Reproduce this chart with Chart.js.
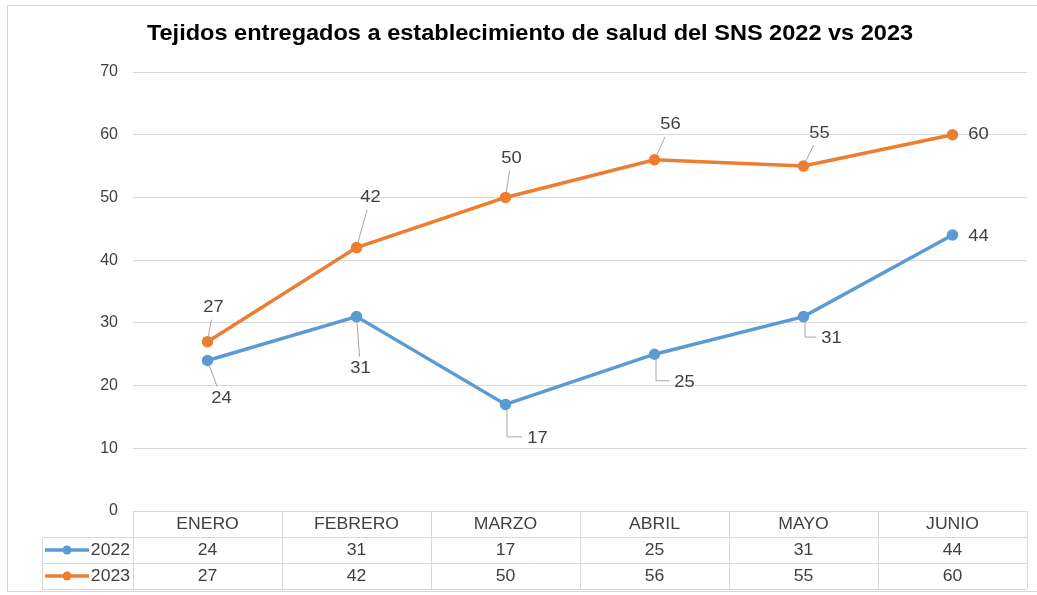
<!DOCTYPE html>
<html>
<head>
<meta charset="utf-8">
<script src="https://cdn.jsdelivr.net/npm/chart.js@4.4.1/dist/chart.umd.min.js"></script>
<style>
    body { margin: 0; background: #ffffff; }
    #wrap { width: 1037px; height: 595px; }
</style>
</head>
<body>
<div id="wrap"><canvas id="chart" width="1037" height="595"></canvas></div>
<script>
// data
const months = ["ENERO", "FEBRERO", "MARZO", "ABRIL", "MAYO", "JUNIO"];
const values2022 = [24, 31, 17, 25, 31, 44];
const values2023 = [27, 42, 50, 56, 55, 60];
const yTicks = [0, 10, 20, 30, 40, 50, 60, 70];

const chartTitle = "Tejidos entregados a establecimiento de salud del SNS 2022 vs 2023";
const blue = "#5B9BD5";
const orange = "#ED7D31";
const gridColor = "#d9d9d9";
const textColor = "#404040";
const fontFamily = "'Liberation Sans', Arial, sans-serif";

// label placement (pixel offsets from point) and leader style
const labelOffsets2022 = [[14, 38, "line"], [4, 52, "line"], [32, 34, "elbow"], [30, 28, "elbow"], [28, 22, "elbow"], [26, 1, "none"]];
const labelOffsets2023 = [[6, -34, "line"], [14, -50, "line"], [6, -39, "line"], [16, -35, "line"], [16, -33, "line"], [26, 0, "none"]];

// the source picture is a little wider than tall, so text is stretched a bit
function wideText(ctx, text, x, y, sx) {
    ctx.save();
    ctx.translate(x, y);
    ctx.scale(sx, 1);
    ctx.fillText(text, 0, 0);
    ctx.restore();
}

const framePlugin = {
    id: "frame",
    beforeDraw(chart) {
        const ctx = chart.ctx;
        ctx.save();
        ctx.fillStyle = "#ffffff";
        ctx.fillRect(0, 0, chart.width, chart.height);
        ctx.strokeStyle = gridColor;
        ctx.lineWidth = 1;
        ctx.strokeRect(7.5, 5.5, chart.width + 10, chart.height - 9);
        ctx.fillStyle = "#000000";
        ctx.font = "bold 22px " + fontFamily;
        ctx.textAlign = "center";
        ctx.textBaseline = "middle";
        wideText(ctx, chartTitle, 530, 34, 1.07);
        ctx.restore();
    }
};

const labelPlugin = {
    id: "pointLabels",
    afterDatasetsDraw(chart) {
        const ctx = chart.ctx;
        const xs = chart.scales.x;
        const ys = chart.scales.y;
        const sets = [
            { values: values2022, offsets: labelOffsets2022 },
            { values: values2023, offsets: labelOffsets2023 },
        ];
        ctx.save();
        ctx.font = "17px " + fontFamily;
        ctx.textAlign = "center";
        ctx.textBaseline = "middle";
        sets.forEach((s) => {
            s.values.forEach((v, i) => {
                const px = xs.getPixelForValue(i);
                const py = ys.getPixelForValue(v);
                const [dx, dy, kind] = s.offsets[i];
                const lx = px + dx;
                const ly = py + dy;
                const label = String(v);
                const hw = ctx.measureText(label).width / 2 + 4;
                ctx.strokeStyle = "#a6a6a6";
                ctx.lineWidth = 1;
                if (kind === "line") {
                    const hh = 12;
                    const ddx = px - lx;
                    const ddy = py - ly;
                    const t = Math.min(ddx !== 0 ? hw / Math.abs(ddx) : 1, ddy !== 0 ? hh / Math.abs(ddy) : 1);
                    const len = Math.hypot(ddx, ddy);
                    const sx = px - (ddx / len) * 5;
                    const sy = py - (ddy / len) * 5;
                    ctx.beginPath();
                    ctx.moveTo(sx, sy);
                    ctx.lineTo(lx + ddx * t, ly + ddy * t);
                    ctx.stroke();
                } else if (kind === "elbow") {
                    ctx.beginPath();
                    ctx.moveTo(px + 1.5, py + 5);
                    ctx.lineTo(px + 1.5, ly - 1.5);
                    ctx.lineTo(lx - hw - 2, ly - 1.5);
                    ctx.stroke();
                }
                ctx.fillStyle = textColor;
                wideText(ctx, label, lx, ly, 1.08);
            });
        });
        ctx.restore();
    }
};

const tablePlugin = {
    id: "dataTable",
    afterDraw(chart) {
        const ctx = chart.ctx;
        const xs = chart.scales.x;
        const area = chart.chartArea;
        const step = xs.getPixelForValue(1) - xs.getPixelForValue(0);
        const rowH = 26;
        const top = area.bottom;
        const legendLeft = 42;
        const rows = [
            { name: "2022", values: values2022, color: blue },
            { name: "2023", values: values2023, color: orange },
        ];
        ctx.save();
        ctx.strokeStyle = gridColor;
        ctx.lineWidth = 1;
        ctx.beginPath();
        // horizontal lines
        ctx.moveTo(area.left, top + 0.5);
        ctx.lineTo(area.right, top + 0.5);
        for (let r = 1; r <= 3; r++) {
            ctx.moveTo(legendLeft, top + r * rowH + 0.5);
            ctx.lineTo(area.right, top + r * rowH + 0.5);
        }
        // vertical lines
        for (let c = 0; c <= months.length; c++) {
            const x = Math.round(area.left + c * step) + 0.5;
            ctx.moveTo(x, top);
            ctx.lineTo(x, top + 3 * rowH);
        }
        ctx.moveTo(legendLeft + 0.5, top + rowH);
        ctx.lineTo(legendLeft + 0.5, top + 3 * rowH);
        ctx.stroke();

        ctx.font = "16px " + fontFamily;
        ctx.fillStyle = textColor;
        ctx.textAlign = "center";
        ctx.textBaseline = "middle";
        months.forEach((m, i) => {
            wideText(ctx, m, xs.getPixelForValue(i), top + rowH / 2 + 1, 1.1);
        });
        rows.forEach((row, r) => {
            const cy = top + (r + 1.5) * rowH + 1;
            row.values.forEach((v, i) => {
                ctx.fillStyle = textColor;
                wideText(ctx, String(v), xs.getPixelForValue(i), cy, 1.1);
            });
            ctx.strokeStyle = row.color;
            ctx.lineWidth = 3.5;
            ctx.beginPath();
            ctx.moveTo(legendLeft + 3, cy - 1);
            ctx.lineTo(legendLeft + 47, cy - 1);
            ctx.stroke();
            ctx.fillStyle = row.color;
            ctx.beginPath();
            ctx.arc(legendLeft + 25, cy - 1, 4.5, 0, Math.PI * 2);
            ctx.fill();
            ctx.fillStyle = textColor;
            ctx.textAlign = "right";
            wideText(ctx, row.name, area.left - 3, cy, 1.1);
            ctx.textAlign = "center";
        });
        ctx.restore();
    }
};

new Chart(document.getElementById("chart"), {
    type: "line",
    data: {
        labels: months,
        datasets: [
            {
                label: "2022",
                data: values2022,
                borderColor: blue,
                backgroundColor: blue,
                borderWidth: 3.5,
                pointRadius: 4,
                pointBackgroundColor: blue,
                pointBorderColor: blue,
                tension: 0,
            },
            {
                label: "2023",
                data: values2023,
                borderColor: orange,
                backgroundColor: orange,
                borderWidth: 3.5,
                pointRadius: 4,
                pointBackgroundColor: orange,
                pointBorderColor: orange,
                tension: 0,
            },
        ],
    },
    options: {
        responsive: false,
        animation: false,
        layout: {
            padding: { left: 0, right: 10, top: 72, bottom: 84 },
        },
        plugins: {
            legend: { display: false },
            title: { display: false },
            tooltip: { enabled: false },
        },
        scales: {
            x: {
                type: "category",
                offset: true,
                display: false,
            },
            y: {
                min: 0,
                max: 70,
                afterBuildTicks(scale) {
                    scale.ticks = yTicks.map((v) => ({ value: v }));
                },
                afterFit(scale) {
                    scale.width = 133;
                },
                border: { display: false },
                grid: {
                    color: gridColor,
                    drawTicks: false,
                },
                ticks: {
                    padding: 15,
                    color: textColor,
                    font: { size: 16, family: fontFamily },
                },
            },
        },
    },
    plugins: [framePlugin, labelPlugin, tablePlugin],
});
</script>
</body>
</html>
